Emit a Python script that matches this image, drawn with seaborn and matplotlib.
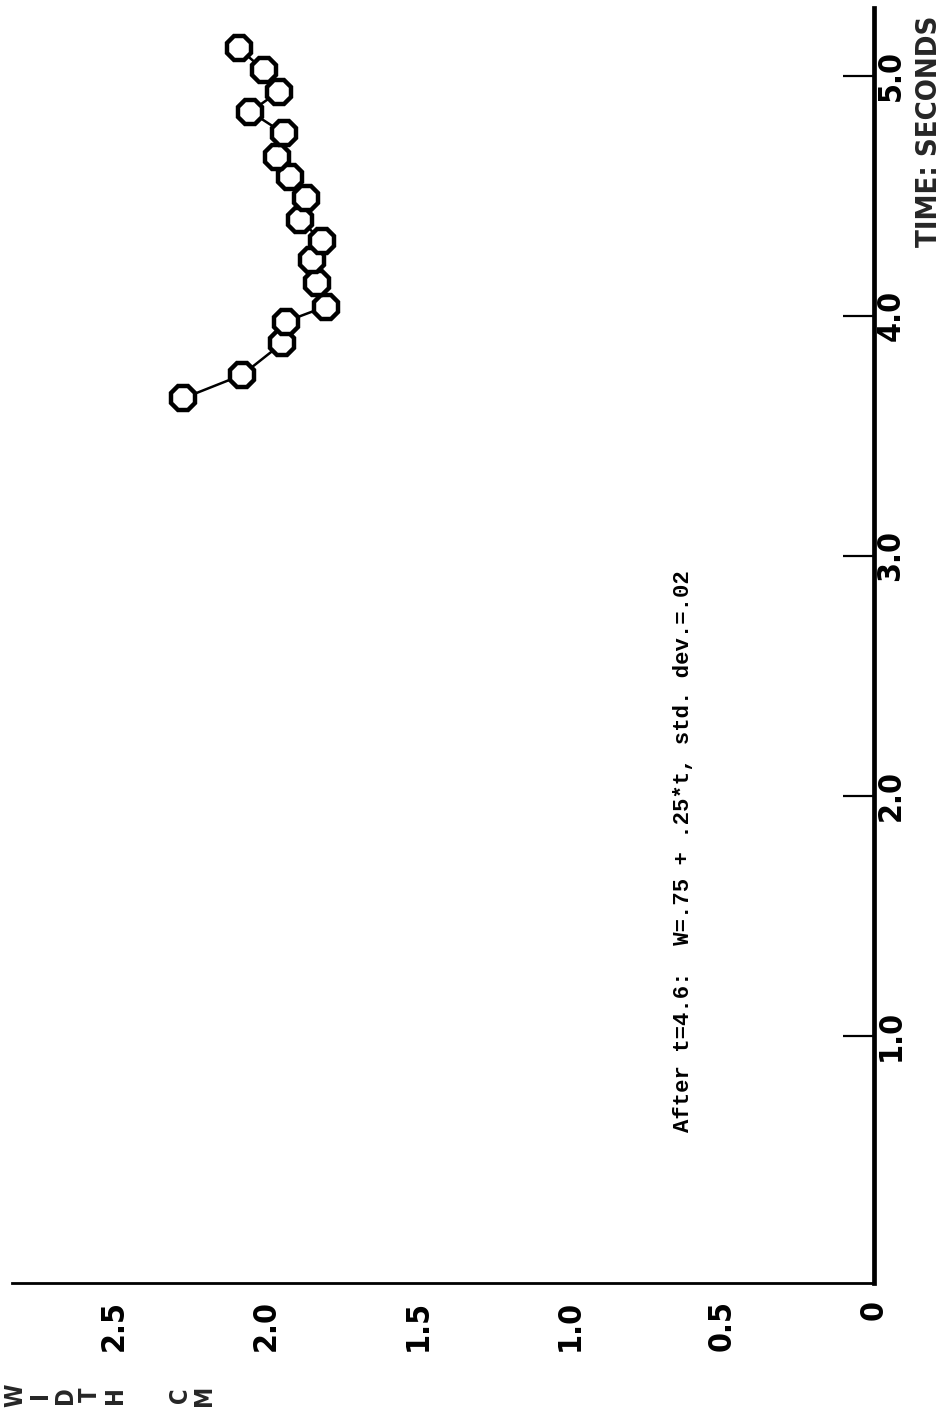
import matplotlib
matplotlib.use("Agg")
import matplotlib.pyplot as plt
import seaborn as sns
import pandas as pd

# time (s) and width (cm), in time order
time_s = [3.657, 3.754, 3.886, 3.976, 4.039, 4.136, 4.233, 4.310, 4.400,
          4.490, 4.580, 4.664, 4.761, 4.851, 4.935, 5.025, 5.115]
width_cm = [2.272, 2.079, 1.947, 1.936, 1.804, 1.832, 1.848, 1.815, 1.887,
            1.870, 1.920, 1.964, 1.942, 2.052, 1.958, 2.008, 2.090]

time_ticks = [1.0, 2.0, 3.0, 4.0, 5.0]
time_labels = ["1.0", "2.0", "3.0", "4.0", "5.0"]
width_ticks = [0.0, 0.5, 1.0, 1.5, 2.0, 2.5]
width_labels = ["0", "0.5", "1.0", "1.5", "2.0", "2.5"]

note = "After t=4.6:  W=.75 + .25*t, std. dev.=.02"

df = pd.DataFrame({"t": time_s, "w": width_cm})

sns.set_style("white")
plt.rcParams["font.family"] = ["DejaVu Sans"]
plt.rcParams["font.weight"] = "bold"
plt.rcParams["font.stretch"] = "condensed"

W, H = 953, 1417
fig = plt.figure(figsize=(W / 100, H / 100), dpi=100)
# chart is drawn turned a quarter turn: time runs up the right side,
# width runs leftwards along the bottom
ax = fig.add_axes([12 / W, 1 - 1283 / H, (874 - 12) / W, (1283 - 8) / H])

sns.lineplot(data=df, x="w", y="t", orient="y", estimator=None, sort=False,
             color="black", lw=1.8, marker="8", markersize=18,
             markerfacecolor="white", markeredgecolor="black",
             markeredgewidth=3.2, ax=ax)

ax.set_xlim(2.836, 0)
ax.set_ylim(-0.03, 5.283)

for s in ["top", "left"]:
    ax.spines[s].set_visible(False)
ax.spines["right"].set_linewidth(3.4)
ax.spines["bottom"].set_linewidth(2.0)
for s in ["right", "bottom"]:
    ax.spines[s].set_color("black")

ax.yaxis.tick_right()
ax.set_yticks(time_ticks)
ax.set_yticklabels(time_labels, rotation=90, fontsize=23, fontweight="bold",
                   va="center")
ax.tick_params(axis="y", direction="in", length=22, width=1.6, pad=1,
               colors="black")

ax.set_xticks(width_ticks)
ax.set_xticklabels(width_labels, rotation=90, fontsize=23, fontweight="bold")
ax.tick_params(axis="x", direction="in", length=9, width=1.6, pad=12,
               colors="black")
ax.set_xlabel("")
ax.set_ylabel("")
ax.grid(False)

ax.text(0.627, 1.77, note, rotation=90, ha="center", va="center",
        family=["Liberation Mono", "DejaVu Sans Mono"], fontweight="bold",
        fontsize=16, color="black")

fig.text(929 / W, 1 - 131 / H, "TIME: SECONDS", rotation=90, ha="center",
         va="center", fontsize=21, fontweight="bold")
fig.text(65 / W, 1 - 1395 / H, "W\nI\nD\nT\nH", rotation=90, ha="center",
         va="center", fontsize=17, fontweight="bold", linespacing=1.05)
fig.text(192 / W, 1 - 1395 / H, "C\nM", rotation=90, ha="center",
         va="center", fontsize=17, fontweight="bold", linespacing=1.05)

fig.savefig("out.png", dpi=100, facecolor="white")
